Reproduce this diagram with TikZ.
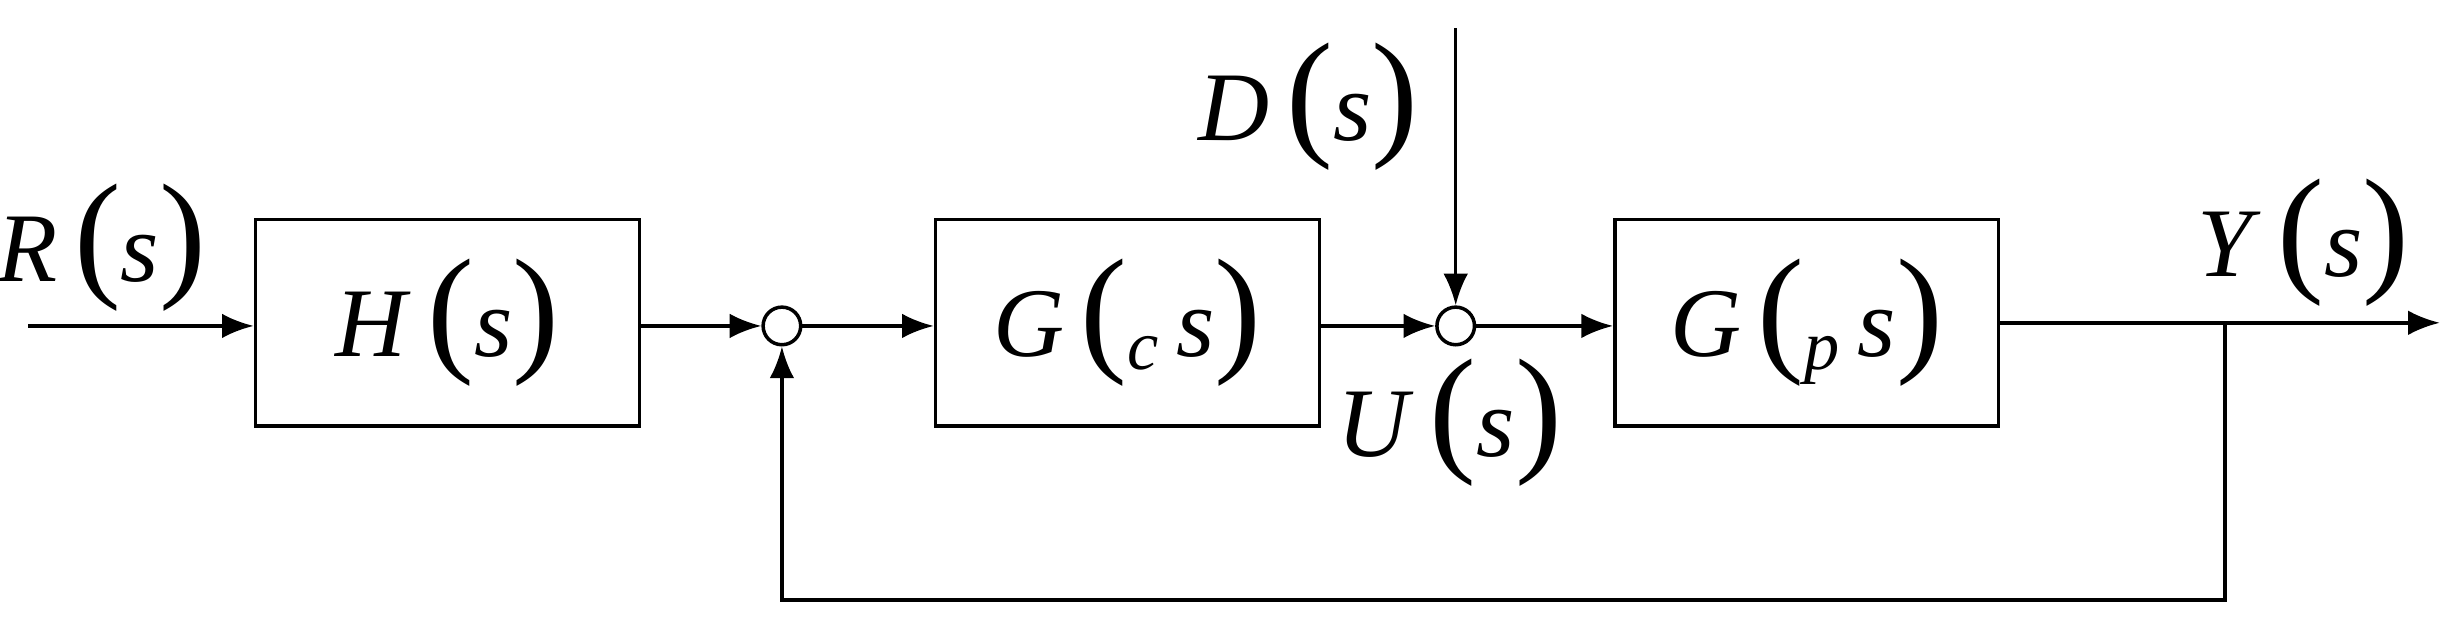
\documentclass[tikz,border=0pt]{standalone}
\usepackage{fontspec}
\setmainfont{Liberation Serif}
\usetikzlibrary{arrows.meta}
\newcommand{\tf}[2]{\textit{#1}\,{\fontsize{40}{40}\selectfont(}\textit{#2}{\fontsize{40}{40}\selectfont)}}
\begin{document}
\begin{tikzpicture}[x=0.01567cm,y=-0.01567cm,line width=1pt,
  blk/.style={draw,minimum width=245*0.01567cm,minimum height=132*0.01567cm,inner sep=0pt},
  sm/.style={draw,circle,minimum size=24*0.01567cm,inner sep=0pt},
  arr/.style={-{Latex[length=9pt,width=7pt]}},
  lab/.style={font=\fontsize{28}{30}\selectfont}]
\useasboundingbox (0,0) rectangle (1568,405);
\node[blk,lab] (H) at (285.5,206) {\tf{H}{s}};
\node[blk,lab] (Gc) at (719.5,206) {\tf{G}{\textsubscript{\fontsize{20}{20}\selectfont c}\,s}};
\node[blk,lab] (Gp) at (1153,206) {\tf{G}{\textsubscript{\fontsize{20}{20}\selectfont p}\,s}};
\node[sm] (s1) at (499,208) {};
\node[sm] (s2) at (929,208) {};
\coordinate (in) at (18,208);
\coordinate (out) at (1557,206);
\coordinate (br) at (1420,206);
\coordinate (bl) at (1420,383);
\coordinate (bs) at (499,383);
\coordinate (dt) at (929,18);
\draw[arr] (in) -- (H.west|-in);
\draw[arr] (H.east|-s1) -- (s1);
\draw[arr] (s1) -- (Gc.west|-s1);
\draw[arr] (Gc.east|-s2) -- (s2);
\draw[arr] (s2) -- (Gp.west|-s2);
\draw[arr] (Gp.east|-out) -- (out);
\draw[arr] (br) -- (bl) -- (bs) -- (s1);
\draw[arr] (dt) -- (s2);
\node[lab] (R) at (65,158) {\tf{R}{s}};
\node[lab] (D) at (835,68) {\tf{D}{s}};
\node[lab] (U) at (925,270) {\tf{U}{s}};
\node[lab] (Y) at (1470,155) {\tf{Y}{s}};
\end{tikzpicture}
\end{document}
